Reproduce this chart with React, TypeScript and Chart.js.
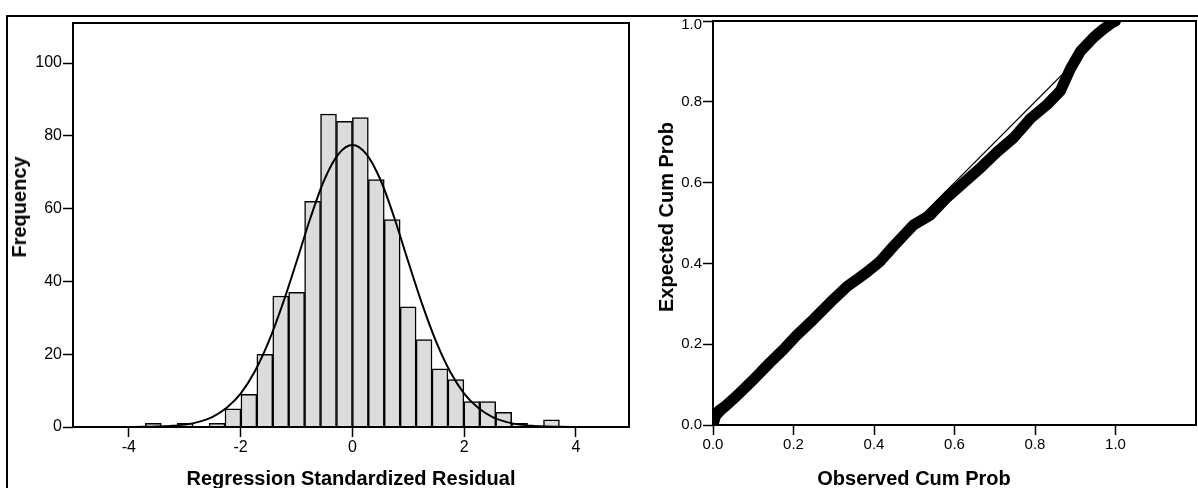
import React, { useEffect, useRef } from "react";
import { Chart, registerables } from "chart.js";

Chart.register(...registerables);

const FONT = "'Liberation Sans', Arial, Helvetica, sans-serif";

// ---------- Histogram of regression standardized residuals ----------
const binWidth = 0.285;
const binLowerEdges = [
  -3.705, -3.42, -3.135, -2.85, -2.565, -2.28, -1.995, -1.71, -1.425, -1.14,
  -0.855, -0.57, -0.285, 0, 0.285, 0.57, 0.855, 1.14, 1.425, 1.71,
  1.995, 2.28, 2.565, 2.85, 3.135, 3.42,
];
const frequencies = [
  1, 0, 1, 0, 1, 5, 9, 20, 36, 37,
  62, 86, 84, 85, 68, 57, 33, 24, 16, 13,
  7, 7, 4, 1, 0, 2,
];
const curveX = [
  -4, -3.75, -3.5, -3.25, -3, -2.75, -2.5, -2.25, -2, -1.75, -1.5, -1.25, -1,
  -0.75, -0.5, -0.25, 0, 0.25, 0.5, 0.75, 1, 1.25, 1.5, 1.75, 2, 2.25, 2.5,
  2.75, 3, 3.25, 3.5, 3.75, 4,
];
const curveY = [
  0, 0.04, 0.12, 0.3, 0.65, 1.4, 2.8, 5.3, 9.2, 15.2, 23.4, 33.7, 45.4,
  57.5, 68, 75, 77.5, 75, 68, 57.5, 45.4, 33.7, 23.4, 15.2, 9.2, 5.3, 2.8,
  1.4, 0.65, 0.3, 0.12, 0.04, 0,
];
const histXTicks = [-4, -2, 0, 2, 4];
const histYTicks = [0, 20, 40, 60, 80, 100];

// ---------- Normal P-P plot ----------
const observedCumProb = [
  0.0, 0.006, 0.015, 0.03, 0.059, 0.1, 0.142, 0.175, 0.208, 0.25, 0.291,
  0.333, 0.36, 0.382, 0.415, 0.449, 0.498, 0.54, 0.581, 0.623, 0.664, 0.706,
  0.747, 0.789, 0.83, 0.863, 0.888, 0.913, 0.946, 0.97, 0.99, 1.0,
];
const expectedCumProb = [
  0.0, 0.022, 0.036, 0.046, 0.072, 0.112, 0.155, 0.187, 0.222, 0.262, 0.303,
  0.343, 0.362, 0.378, 0.405, 0.443, 0.495, 0.52, 0.563, 0.6, 0.636, 0.676,
  0.711, 0.759, 0.793, 0.827, 0.882, 0.925, 0.96, 0.98, 0.995, 1.0,
];
const diagonalX = [0, 1];
const diagonalY = [0, 1];
const ppTicks = [0, 0.2, 0.4, 0.6, 0.8, 1.0];

const framePlugin = {
  id: "frameBox",
  afterDraw(chart: any) {
    const { ctx, chartArea: a } = chart;
    ctx.save();
    ctx.strokeStyle = "#000";
    ctx.lineWidth = 2;
    ctx.strokeRect(a.left, a.top, a.right - a.left, a.bottom - a.top);
    ctx.restore();
  },
};

// nudges the top y tick label down a little so it sits below the outer frame line
const topLabelNudge = {
  id: "topLabelNudge",
  beforeDraw(chart: any) {
    const s = chart.scales.y;
    if (!s || !s.getLabelItems) return;
    const items = s.getLabelItems(chart.chartArea);
    const last = items[items.length - 1];
    if (last && last.options && last.options.translation && !last._nudged) {
      last.options.translation = [last.options.translation[0], last.options.translation[1] + 4];
      last._nudged = true;
    }
  },
};

const tickGrid = {
  display: true,
  offset: false,
  drawOnChartArea: false,
  drawTicks: true,
  tickLength: 10,
  tickColor: "#000",
  tickWidth: 1.5,
};

export default function App() {
  const leftRef = useRef<HTMLCanvasElement | null>(null);
  const rightRef = useRef<HTMLCanvasElement | null>(null);

  useEffect(() => {
    const left = new Chart(leftRef.current as HTMLCanvasElement, {
      type: "bar",
      data: {
        datasets: [
          {
            type: "line",
            data: curveX.map((x, i) => ({ x, y: curveY[i] })),
            borderColor: "#000",
            borderWidth: 2,
            pointRadius: 0,
            fill: false,
            cubicInterpolationMode: "monotone",
            order: 0,
          } as any,
          {
            type: "bar",
            data: binLowerEdges.map((e, i) => ({ x: e + binWidth / 2, y: frequencies[i] })),
            backgroundColor: "#dcdcdc",
            borderColor: "#000",
            borderWidth: 1.5,
            barPercentage: 1,
            categoryPercentage: 1,
            order: 1,
          } as any,
        ],
      },
      options: {
        responsive: false,
        animation: false,
        layout: { padding: { top: 23, right: 11, left: 0, bottom: 0 } },
        plugins: { legend: { display: false }, tooltip: { enabled: false } },
        scales: {
          x: {
            type: "linear",
            min: -5,
            max: 4.95,
            offset: false,
            afterBuildTicks: (s: any) => {
              s.ticks = histXTicks.map((v) => ({ value: v }));
            },
            afterFit: (s: any) => {
              s.height = 61;
            },
            grid: tickGrid,
            border: { display: false },
            ticks: {
              font: { family: FONT, size: 16 },
              color: "#000",
              padding: 1,
              maxRotation: 0,
              autoSkip: false,
            },
          },
          y: {
            type: "linear",
            min: 0,
            max: 111,
            afterBuildTicks: (s: any) => {
              s.ticks = histYTicks.map((v) => ({ value: v }));
            },
            afterFit: (s: any) => {
              s.width = 73;
            },
            grid: tickGrid,
            border: { display: false },
            ticks: {
              font: { family: FONT, size: 16 },
              color: "#000",
              padding: 1,
              autoSkip: false,
            },
          },
        },
      } as any,
      plugins: [framePlugin],
    });

    const right = new Chart(rightRef.current as HTMLCanvasElement, {
      type: "scatter",
      data: {
        datasets: [
          {
            data: diagonalX.map((x, i) => ({ x, y: diagonalY[i] })),
            showLine: true,
            borderColor: "#000",
            borderWidth: 1.2,
            pointRadius: 0,
            order: 0,
          } as any,
          {
            data: observedCumProb.map((x, i) => ({ x, y: expectedCumProb[i] })),
            showLine: true,
            borderColor: "#000",
            borderWidth: 11,
            borderCapStyle: "round",
            borderJoinStyle: "round",
            pointRadius: 0,
            clip: 0,
            order: 1,
          } as any,
        ],
      },
      options: {
        responsive: false,
        animation: false,
        layout: { padding: { top: 21, right: 2, left: 0, bottom: 0 } },
        plugins: { legend: { display: false }, tooltip: { enabled: false } },
        scales: {
          x: {
            type: "linear",
            min: 0,
            max: 1.2,
            afterBuildTicks: (s: any) => {
              s.ticks = ppTicks.map((v) => ({ value: v }));
            },
            afterFit: (s: any) => {
              s.height = 63;
            },
            grid: tickGrid,
            border: { display: false },
            ticks: {
              font: { family: FONT, size: 15 },
              color: "#000",
              padding: 1,
              maxRotation: 0,
              autoSkip: false,
              callback: (v: any) => Number(v).toFixed(1),
            },
          },
          y: {
            type: "linear",
            min: 0,
            max: 1,
            afterBuildTicks: (s: any) => {
              s.ticks = ppTicks.map((v) => ({ value: v }));
            },
            afterFit: (s: any) => {
              s.width = 73;
            },
            grid: tickGrid,
            border: { display: false },
            ticks: {
              font: { family: FONT, size: 15 },
              color: "#000",
              padding: 1,
              autoSkip: false,
              callback: (v: any) => Number(v).toFixed(1),
            },
          },
        },
      } as any,
      plugins: [framePlugin, topLabelNudge],
    });

    return () => {
      left.destroy();
      right.destroy();
    };
  }, []);

  const titleStyle: React.CSSProperties = {
    position: "absolute",
    fontFamily: FONT,
    fontWeight: "bold",
    fontSize: 20,
    lineHeight: "20px",
    whiteSpace: "nowrap",
    color: "#000",
  };

  return (
    <div
      style={{
        position: "absolute",
        left: 0,
        top: 0,
        width: 1198,
        height: 488,
        background: "#fff",
        overflow: "hidden",
      }}
    >
      <div
        style={{
          position: "absolute",
          left: 6,
          top: 15,
          width: 1200,
          height: 480,
          borderTop: "2px solid #000",
          borderLeft: "2px solid #000",
        }}
      />
      <canvas ref={leftRef} width={640} height={488} style={{ position: "absolute", left: 0, top: 0 }} />
      <canvas ref={rightRef} width={558} height={488} style={{ position: "absolute", left: 640, top: 0 }} />
      <div style={{ ...titleStyle, left: 351, top: 468, transform: "translateX(-50%)" }}>
        Regression Standardized Residual
      </div>
      <div style={{ ...titleStyle, left: 914, top: 468, transform: "translateX(-50%)" }}>
        Observed Cum Prob
      </div>
      <div style={{ ...titleStyle, left: 19, top: 207, transform: "translate(-50%, -50%) rotate(-90deg)" }}>
        Frequency
      </div>
      <div style={{ ...titleStyle, left: 666, top: 217, transform: "translate(-50%, -50%) rotate(-90deg)" }}>
        Expected Cum Prob
      </div>
    </div>
  );
}
